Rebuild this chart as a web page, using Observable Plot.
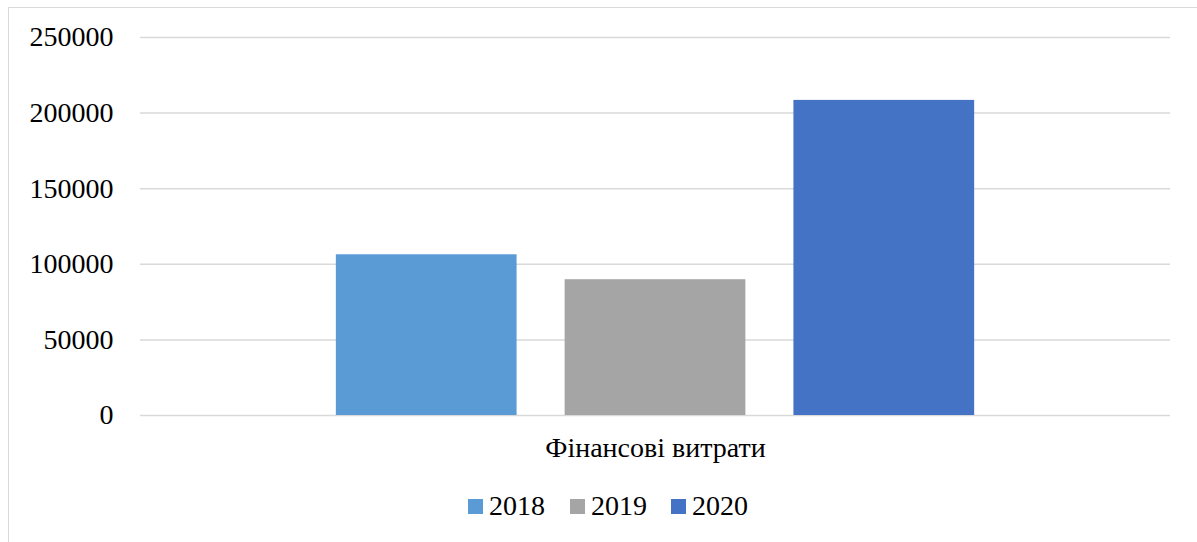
<!DOCTYPE html>
<html>
<head>
<meta charset="utf-8">
<script src="https://cdn.jsdelivr.net/npm/d3@7"></script>
<script src="https://cdn.jsdelivr.net/npm/@observablehq/plot@0.6"></script>
<style>
  html, body { margin: 0; padding: 0; background: #fff; overflow: hidden; width: 1197px; height: 542px; }
  #frame { position: absolute; left: 8px; top: 7px; width: 1300px; height: 700px; border: 1px solid #d9d9d9; box-sizing: border-box; }
  #chart { position: absolute; left: 0; top: 0; }
  #legend { position: absolute; left: 0; top: 490px; width: 1197px; height: 32px; font-family: "Liberation Serif", "Times New Roman", serif; font-size: 28px; color: #000; }
  .item { position: absolute; top: 0; height: 32px; }
  .sw { position: absolute; top: 9px; width: 15px; height: 15px; }
  .lb { position: absolute; left: 21px; top: 0; line-height: 32px; white-space: nowrap; }
</style>
</head>
<body>
<div id="frame"></div>
<div id="chart"></div>
<div id="legend"></div>
<script>
const category = "Фінансові витрати";
const years = ["2018", "2019", "2020"];
const values = [106300, 89800, 208400];
const colors = ["#5B9BD5", "#A5A5A5", "#4472C4"];
const yTicks = [0, 50000, 100000, 150000, 200000, 250000];

const data = years.map((y, i) => ({category, year: y, value: values[i]}));

const chart = Plot.plot({
  width: 1197,
  height: 480,
  marginLeft: 140,
  marginRight: 27,
  marginTop: 37,
  marginBottom: 65,
  style: {fontFamily: "'Liberation Serif', 'Times New Roman', serif", color: "#000", background: "transparent", overflow: "visible"},
  fx: {domain: [category], padding: 0, round: false},
  x: {domain: years, paddingInner: 0.21, paddingOuter: 0.856, round: false, axis: null},
  y: {domain: [0, 250000], axis: null},
  color: {domain: years, range: colors},
  marks: [
    Plot.gridY(yTicks, {stroke: "#d9d9d9", strokeOpacity: 1, strokeWidth: 1.5}),
    Plot.barY(data, {fx: "category", x: "year", y: "value", fill: "year"}),
    Plot.axisY(yTicks, {tickFormat: d3.format("d"), tickSize: 0, tickPadding: 27, fontSize: 28, label: null}),
    Plot.axisFx({anchor: "bottom", tickSize: 0, tickPadding: 22, fontSize: 28, label: null})
  ]
});
document.getElementById("chart").appendChild(chart);

const legend = document.getElementById("legend");
const lefts = [468, 570, 671];
years.forEach((y, i) => {
  const item = document.createElement("div");
  item.className = "item";
  item.style.left = lefts[i] + "px";
  const sw = document.createElement("div");
  sw.className = "sw";
  sw.style.background = colors[i];
  const lb = document.createElement("div");
  lb.className = "lb";
  lb.textContent = y;
  item.appendChild(sw);
  item.appendChild(lb);
  legend.appendChild(item);
});
</script>
</body>
</html>
